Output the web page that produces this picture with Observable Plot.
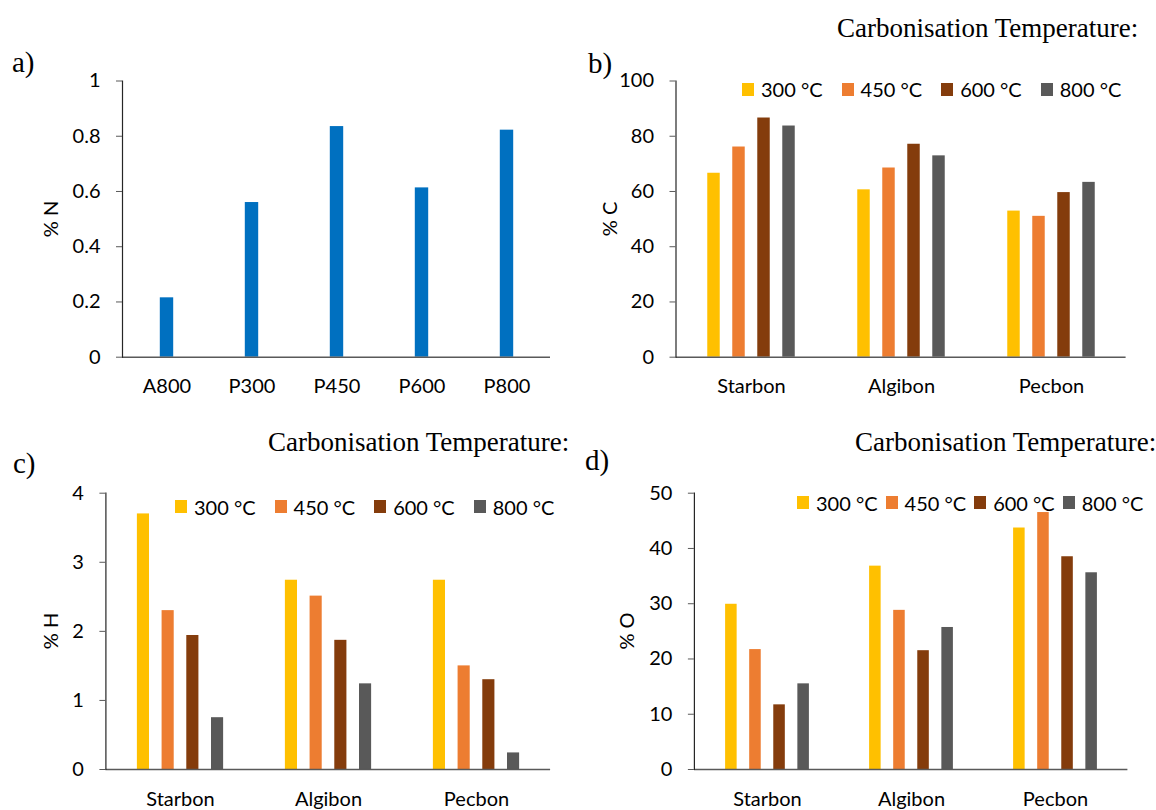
<!DOCTYPE html>
<html>
<head>
<meta charset="utf-8">
<script src="https://cdn.jsdelivr.net/npm/d3@7"></script>
<script src="https://cdn.jsdelivr.net/npm/@observablehq/plot@0.6"></script>
<style>
  html, body { margin: 0; padding: 0; background: #fff; overflow: hidden; }
  #page { position: relative; width: 1156px; height: 810px; overflow: hidden; background: #fff; }
  .panel { position: absolute; }
  .title { position: absolute; font-family: "Liberation Serif", serif; font-size: 27px; line-height: 27px; white-space: nowrap; color: #000; }
  .letter { position: absolute; font-family: "Liberation Serif", serif; font-size: 29px; line-height: 29px; white-space: nowrap; color: #000; }
  .ylab { position: absolute; font-family: Lato, sans-serif; font-size: 20px; line-height: 20px; white-space: nowrap; color: #000; transform: translate(-50%, -50%) rotate(-90deg); }
  .legend { position: absolute; display: flex; align-items: center; font-family: Lato, sans-serif; font-size: 20px; line-height: 20px; color: #000; white-space: nowrap; transform: translateY(-50%); }
  .item { display: flex; align-items: center; }
  .sw { width: 12px; height: 13px; margin-right: 7px; }
</style>
</head>
<body>
<div id="page"></div>
<script>
// ---------- data ----------
const nSamples = ["A800", "P300", "P450", "P600", "P800"];
const nValues = [0.215, 0.56, 0.835, 0.613, 0.822];

const groups = ["Starbon", "Algibon", "Pecbon"];
const temps = ["300 °C", "450 °C", "600 °C", "800 °C"];
// rows: Starbon, Algibon, Pecbon ; columns: 300, 450, 600, 800 °C
const carbon = [[66.6, 76.1, 86.6, 83.7], [60.6, 68.5, 77.1, 72.9], [52.9, 51.0, 59.6, 63.3]];
const hydrogen = [[3.70, 2.30, 1.94, 0.75], [2.74, 2.51, 1.87, 1.24], [2.74, 1.50, 1.30, 0.24]];
const oxygen = [[29.9, 21.7, 11.7, 15.5], [36.8, 28.8, 21.5, 25.7], [43.7, 46.5, 38.5, 35.6]];

const ticksN = [0, 0.2, 0.4, 0.6, 0.8, 1];
const ticksC = [0, 20, 40, 60, 80, 100];
const ticksH = [0, 1, 2, 3, 4];
const ticksO = [0, 10, 20, 30, 40, 50];

const tempColors = ["#FFC000", "#ED7D31", "#843C0C", "#595959"];
const nColor = "#0070C0";
const titleText = "Carbonisation Temperature:";

// ---------- helpers ----------
const page = document.getElementById("page");
const baseStyle = {fontFamily: "Lato, sans-serif", fontSize: "20px", color: "#000", background: "transparent", overflow: "visible"};

function place(svg, left, top) {
  const d = document.createElement("div");
  d.className = "panel";
  d.style.left = left + "px";
  d.style.top = top + "px";
  d.appendChild(svg);
  page.appendChild(d);
}
function addText(cls, text, left, top) {
  const d = document.createElement("div");
  d.className = cls;
  d.textContent = text;
  d.style.left = left + "px";
  d.style.top = top + "px";
  page.appendChild(d);
  return d;
}
function addLegend(left, cy, gap) {
  const d = document.createElement("div");
  d.className = "legend";
  d.style.left = left + "px";
  d.style.top = cy + "px";
  d.style.gap = gap + "px";
  temps.forEach((t, i) => {
    const it = document.createElement("div");
    it.className = "item";
    const sw = document.createElement("div");
    sw.className = "sw";
    sw.style.background = tempColors[i];
    const tx = document.createElement("span");
    tx.textContent = t;
    it.appendChild(sw); it.appendChild(tx);
    d.appendChild(it);
  });
  page.appendChild(d);
}

function axes(ticks, fmt) {
  return [
    Plot.ruleY([0], {stroke: "#595959", strokeWidth: 1.6}),
    Plot.frame({anchor: "left", stroke: "#262626", strokeWidth: 1.2}),
    Plot.axisY({ticks, tickFormat: fmt, tickSize: 6, tickPadding: 16, label: null, stroke: "#595959"}),
    Plot.axisX({tickSize: 0, tickPadding: 22, label: null})
  ];
}

function grouped(values, ticks, g) {
  const data = groups.flatMap((grp, gi) => temps.map((t, ti) => ({group: grp, temp: t, ti, value: values[gi][ti]})));
  const step = (g.width - g.ml - g.mr) / groups.length;
  const bars = temps.map((t, ti) => {
    const off = (ti - 1.5) * step / 6;
    return Plot.barY(data.filter(d => d.ti === ti), {
      x: "group", y: "value", fill: tempColors[ti],
      insetLeft: step / 2 + off - step / 24,
      insetRight: step / 2 - off - step / 24
    });
  });
  return Plot.plot({
    width: g.width, height: g.height,
    marginLeft: g.ml, marginRight: g.mr, marginTop: g.mt, marginBottom: g.mb,
    x: {domain: groups, padding: 0},
    y: {domain: [ticks[0], ticks[ticks.length - 1]]},
    style: baseStyle,
    marks: [...bars, ...axes(ticks, d => String(d))]
  });
}

// ---------- panel a ----------
{
  const g = {width: 580, height: 410, ml: 122, mr: 30, mt: 80.5, mb: 53.3};
  const step = (g.width - g.ml - g.mr) / nSamples.length;
  const data = nSamples.map((s, i) => ({sample: s, value: nValues[i]}));
  const svg = Plot.plot({
    width: g.width, height: g.height,
    marginLeft: g.ml, marginRight: g.mr, marginTop: g.mt, marginBottom: g.mb,
    x: {domain: nSamples, padding: 0},
    y: {domain: [0, 1]},
    style: baseStyle,
    marks: [
      Plot.barY(data, {x: "sample", y: "value", fill: nColor, insetLeft: (step - 14) / 2, insetRight: (step - 14) / 2}),
      ...axes(ticksN, d => String(d))
    ]
  });
  place(svg, 0, 0);
  addText("letter", "a)", 12, 48);
  addText("ylab", "% N", 50, 219);
}

// ---------- panel b ----------
{
  const g = {width: 576, height: 410, ml: 95.5, mr: 30.4, mt: 80.5, mb: 53.3};
  place(grouped(carbon, ticksC, g), 580, 0);
  addText("letter", "b)", 588, 49);
  addText("title", titleText, 837, 14.7);
  addText("ylab", "% C", 609, 218.5);
  addLegend(742, 89, 19);
}

// ---------- panel c ----------
{
  const g = {width: 580, height: 400, ml: 105.4, mr: 29.9, mt: 82.7, mb: 41};
  place(grouped(hydrogen, ticksH, g), 0, 410);
  addText("letter", "c)", 13, 449);
  addText("title", titleText, 268, 429.1);
  addText("ylab", "% H", 50, 631);
  addLegend(175, 506.7, 19);
}

// ---------- panel d ----------
{
  const g = {width: 576, height: 400, ml: 113.9, mr: 28.6, mt: 82.7, mb: 41};
  place(grouped(oxygen, ticksO, g), 580, 410);
  addText("letter", "d)", 585, 446);
  addText("title", titleText, 855, 429.1);
  addText("ylab", "% O", 626, 631);
  addLegend(797, 502.7, 8);
}
</script>
</body>
</html>
